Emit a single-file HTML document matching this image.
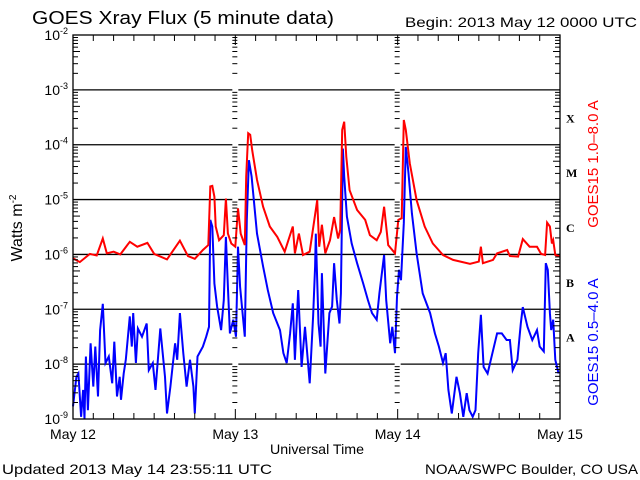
<!DOCTYPE html>
<html><head><meta charset="utf-8"><style>
body{margin:0;background:#fff;width:640px;height:480px;overflow:hidden}
svg{display:block;font-family:"Liberation Sans","DejaVu Sans",sans-serif}
</style></head><body>
<svg id="chart" width="640" height="480" viewBox="0 0 640 480" xmlns="http://www.w3.org/2000/svg">
<rect x="0" y="0" width="640" height="480" fill="#fff"/>
<text x="32" y="24" font-size="18" textLength="302" lengthAdjust="spacingAndGlyphs" fill="#000">GOES Xray Flux (5 minute data)</text>
<text x="405" y="27" font-size="14" textLength="232" lengthAdjust="spacingAndGlyphs" fill="#000">Begin:  2013 May 12 0000 UTC</text>
<text transform="translate(22,228) rotate(-90)" text-anchor="middle" font-size="16" fill="#000">Watts m<tspan dy="-6" font-size="10">-2</tspan></text>
<text x="270" y="454" font-size="14" textLength="94" lengthAdjust="spacingAndGlyphs" fill="#000">Universal Time</text>
<text x="2" y="474" font-size="14" textLength="270" lengthAdjust="spacingAndGlyphs" fill="#000">Updated 2013 May 14 23:55:11 UTC</text>
<text x="425" y="474" font-size="14" textLength="213" lengthAdjust="spacingAndGlyphs" fill="#000">NOAA/SWPC Boulder, CO USA</text>
<text transform="translate(598,164) rotate(-90)" text-anchor="middle" font-size="15" fill="#ff0000">GOES15 1.0–8.0 A</text>
<text transform="translate(598,342) rotate(-90)" text-anchor="middle" font-size="15" fill="#0000ff">GOES15 0.5–4.0 A</text>
<g id="grid"></g>
<g id="series"></g>
<g id="axes"></g>
</svg>
<script>
const dayLabels=["May 12","May 13","May 14","May 15"];
const yExponents=[-2,-3,-4,-5,-6,-7,-8,-9];
const classLabels=["X","M","C","B","A"];
const redHours=[0,1.0,2.5,3.5,4.4,5,6,7,8.4,9.5,11,12,13.9,15.8,17,18,19.2,20,20.3,20.6,20.9,21.1,21.6,22.3,22.6,22.9,23.4,24,24.4,24.8,25.4,25.6,25.9,26.2,26.5,27.2,28.1,29.1,30.2,31.3,32.5,32.8,33.4,34,35,36.1,36.4,36.8,37.3,38,38.6,39.2,39.5,39.8,40.1,40.4,40.9,42,43.2,43.9,44.9,45.5,46,46.6,47.6,48.1,48.6,48.9,49.2,49.8,50.8,52,53.2,54.7,56.2,58.7,60,60.3,60.6,62.1,62.7,64.2,64.6,65.8,66.5,67.5,68.6,69.2,69.8,70.1,70.5,70.8,71,71.3,72];
const redLogFlux=[-6.07,-6.14,-5.99,-6.02,-5.71,-5.98,-5.95,-6.0,-5.77,-5.86,-5.79,-5.99,-6.09,-5.75,-6.03,-6.08,-5.92,-5.83,-4.76,-4.75,-4.95,-5.49,-5.74,-5.65,-4.98,-5.62,-5.80,-5.86,-5.16,-5.62,-5.83,-4.58,-3.79,-3.82,-4.10,-4.64,-5.13,-5.49,-5.68,-5.95,-5.49,-5.98,-5.62,-6.01,-5.95,-5.01,-5.86,-5.46,-5.98,-5.74,-5.32,-5.71,-5.55,-3.73,-3.58,-4.22,-4.83,-5.19,-5.37,-5.65,-5.74,-5.59,-5.13,-5.83,-5.98,-5.37,-5.34,-3.55,-3.73,-4.34,-5.01,-5.49,-5.80,-6.01,-6.10,-6.17,-6.13,-5.86,-6.16,-6.10,-5.98,-5.92,-6.03,-6.04,-5.72,-5.86,-5.86,-5.99,-6.01,-5.42,-5.49,-5.80,-5.74,-6.01,-6.04];
const blueHours=[0,0.5,0.8,1.2,1.5,1.7,1.9,2.2,2.6,3.0,3.3,3.7,4.0,4.4,4.8,5.3,5.8,6.1,6.5,6.9,7.1,7.5,7.8,8.4,8.7,8.9,9.3,9.6,10.2,10.9,11.2,11.8,12.2,12.9,13.6,13.9,14.4,15.1,15.4,15.8,16.3,16.8,17.3,17.8,18.0,18.4,19.2,19.7,20.1,20.3,20.6,20.9,21.3,21.9,22.3,22.6,22.9,23.2,23.7,24.1,24.4,24.7,25.0,25.4,25.7,26.0,26.4,27.2,28.1,28.8,29.6,30.6,31.1,31.6,32.1,32.5,32.8,33.3,33.8,34.3,35.0,35.5,35.8,35.9,36.3,36.6,36.8,37.3,37.9,38.3,38.6,39.0,39.4,39.6,39.9,40.1,40.5,41.2,42.0,42.9,43.6,44.2,44.9,45.3,46.0,46.3,46.9,47.2,47.6,47.9,48.2,48.5,48.9,49.2,49.6,50.1,50.8,51.7,52.8,53.5,54.1,54.7,55.1,55.5,56.0,56.7,57.2,57.7,58.2,58.6,59.1,59.5,59.9,60.3,60.7,61.3,62.0,62.7,63.4,64.1,64.6,65.0,65.7,66.2,66.5,67.2,67.9,68.6,69.0,69.6,69.9,70.2,70.5,70.7,71.0,71.3,71.8];
const blueLogFlux=[-8.77,-8.23,-8.17,-8.96,-8.47,-8.99,-7.86,-8.84,-7.62,-8.41,-7.68,-8.59,-7.38,-6.90,-7.98,-7.86,-8.35,-7.59,-8.59,-8.23,-8.65,-8.17,-7.92,-7.13,-7.68,-7.07,-7.98,-7.35,-7.50,-7.26,-8.11,-7.98,-8.47,-7.35,-8.23,-8.90,-8.41,-7.62,-7.92,-7.07,-7.80,-8.41,-7.92,-8.41,-8.90,-7.86,-7.68,-7.50,-7.32,-5.37,-5.49,-6.53,-6.95,-7.38,-6.83,-5.68,-6.59,-7.44,-7.19,-7.50,-5.86,-6.59,-6.98,-7.50,-5.37,-4.28,-4.58,-5.62,-6.22,-6.65,-7.07,-7.38,-7.80,-7.98,-7.44,-6.89,-7.92,-6.65,-8.05,-7.32,-8.35,-7.13,-6.22,-5.62,-7.26,-7.68,-6.34,-8.17,-7.07,-6.95,-6.16,-6.83,-7.26,-6.71,-4.07,-4.58,-5.31,-5.80,-6.16,-6.53,-6.83,-7.07,-7.19,-6.71,-6.01,-6.83,-7.62,-7.32,-7.80,-6.77,-6.28,-6.47,-5.43,-4.04,-4.52,-5.25,-5.98,-6.71,-7.07,-7.44,-7.68,-7.98,-7.80,-8.47,-8.90,-8.23,-8.53,-8.96,-8.53,-8.84,-8.96,-8.84,-7.80,-7.10,-8.05,-8.17,-7.80,-7.44,-7.44,-7.56,-7.56,-8.11,-7.92,-7.26,-6.96,-7.32,-7.56,-7.38,-7.68,-7.77,-6.16,-6.28,-7.07,-7.38,-7.19,-7.92,-8.17];

const L=73,R=560,T=35,B=419,H0=72;
const xs=h=>L+(h/H0)*(R-L);
const ys=v=>T+(-2-v)/7*(B-T);
const NS="http://www.w3.org/2000/svg";
function mk(tag,attrs,parent){const e=document.createElementNS(NS,tag);for(const k in attrs)e.setAttribute(k,attrs[k]);parent.appendChild(e);return e;}
const grid=document.getElementById('grid'),axes=document.getElementById('axes'),ser=document.getElementById('series');
const dayX=[1,2].map(d=>xs(d*24));
yExponents.slice(1,-1).forEach(e=>{
  const y=ys(e);
  const segs=[[L,dayX[0]-3],[dayX[0]+3,dayX[1]-3],[dayX[1]+3,R]];
  segs.forEach(s=>{const ln=mk('line',{x1:s[0],x2:s[1],y1:y,y2:y,stroke:'#000','stroke-width':1.3},grid);
    
    });
});
const fr=mk('rect',{x:L,y:T,width:R-L,height:B-T,fill:'none',stroke:'#000','stroke-width':1.3},axes);


for(let e=-9;e<-2;e++){
  for(let m=2;m<10;m++){
    const y=ys(e+Math.log10(m));
    const len=m===5?7:5;
    mk('line',{x1:L,x2:L+len,y1:y,y2:y,stroke:'#000','stroke-width':1},axes);
    mk('line',{x1:R-len,x2:R,y1:y,y2:y,stroke:'#000','stroke-width':1},axes);
    dayX.forEach(dx=>mk('line',{x1:dx-3,x2:dx+2,y1:y,y2:y,stroke:'#000','stroke-width':1},axes));
  }
}
for(let h=3;h<H0;h+=3){
  const x=xs(h),len=(h%24===0)?10:6;
  mk('line',{x1:x,x2:x,y1:T,y2:T+len,stroke:'#000','stroke-width':1},axes);
  mk('line',{x1:x,x2:x,y1:B,y2:B-len,stroke:'#000','stroke-width':1},axes);
}
yExponents.forEach(e=>{
  const t=mk('text',{x:L-5,y:ys(e)+5,'text-anchor':'end','font-size':14,fill:'#000'},axes);
  
  
  t.textContent='10';
  const s=mk('tspan',{dy:-6,'font-size':9},t);s.textContent=String(e);
});
dayLabels.forEach((d,i)=>{
  const t=mk('text',{x:xs(i*24),y:439,'text-anchor':'middle','font-size':14,fill:'#000'},axes);
  
  
  t.textContent=d;
});
classLabels.forEach((c,i)=>{
  const t=mk('text',{x:566,y:(ys(-3-i)+ys(-4-i))/2+5,'font-size':12,'font-weight':'bold','font-family':'Liberation Serif, serif',fill:'#000'},axes);
  
  
  t.textContent=c;
});
function series(hours,vals,color,name){
  const pts=hours.map((h,i)=>xs(h).toFixed(1)+','+ys(Math.max(-9,vals[i])).toFixed(1)).join(' ');
  const p=mk('polyline',{points:pts,fill:'none',stroke:color,'stroke-width':2,'stroke-linejoin':'miter'},ser);
  
  
}
series(blueHours,blueLogFlux,'#0000ff','short-channel-line');
series(redHours,redLogFlux,'#ff0000','long-channel-line');
</script>
</body></html>
